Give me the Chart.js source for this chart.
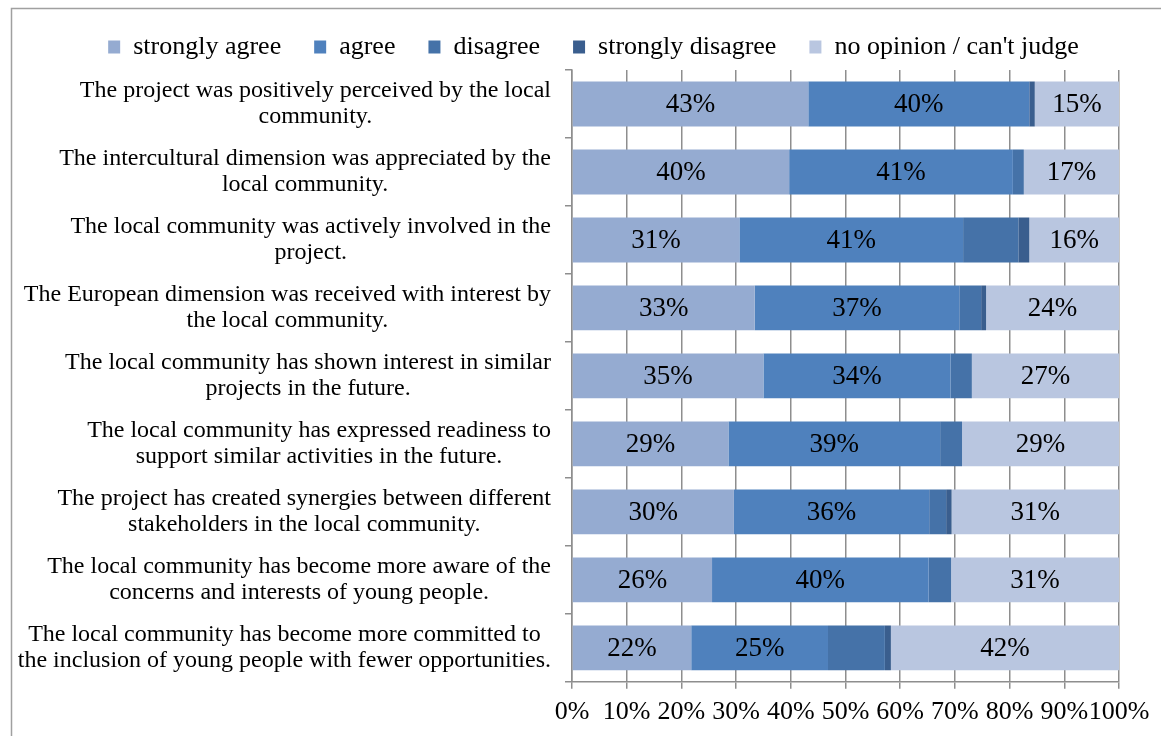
<!DOCTYPE html>
<html>
<head>
<meta charset="utf-8">
<title>Local community impact</title>
<script src="https://cdn.jsdelivr.net/npm/chart.js@4"></script>
<style>
  html, body { margin: 0; padding: 0; background: #fff; }
  #wrap { position: relative; width: 1161px; height: 736px; }
</style>
</head>
<body>
<div id="wrap"><canvas id="chart" width="1161" height="736"></canvas></div>
<script>
const SERIF = "'Liberation Serif', 'Times New Roman', serif";

const categories = [
  ['The project was positively perceived by the local', 'community.'],
  ['The intercultural dimension was appreciated by the', 'local community.'],
  ['The local community was actively involved in the', 'project.'],
  ['The European dimension was received with interest by', 'the local community.'],
  ['The local community has shown interest in similar', 'projects in the future.'],
  ['The local community has expressed readiness to', 'support similar activities in the future.'],
  ['The project has created synergies between different', 'stakeholders in the local community.'],
  ['The local community has become more aware of the', 'concerns and interests of young people.'],
  ['The local community has become more committed to', 'the inclusion of young people with fewer opportunities.']
];

const seriesNames = ['strongly agree', 'agree', 'disagree', 'strongly disagree', "no opinion / can't judge"];

// shares in percent, one entry per statement
const stronglyAgree    = [43.2, 39.7, 30.6, 33.4, 35.0, 28.6, 29.6, 25.6, 21.8];
const agree            = [40.4, 40.9, 40.9, 37.4, 34.2, 38.7, 35.7, 39.6, 25.0];
const disagree         = [0.0, 2.0, 10.1, 4.0, 3.9, 4.0, 3.1, 4.1, 10.4];
const stronglyDisagree = [1.0, 0.0, 2.0, 0.9, 0.0, 0.0, 1.0, 0.0, 1.1];
const noOpinion        = [15.4, 17.4, 16.4, 24.3, 26.9, 28.7, 30.6, 30.7, 41.7];

const xTicks = [0, 10, 20, 30, 40, 50, 60, 70, 80, 90, 100];

const colors = ['#95abd1', '#4f81bd', '#4572a8', '#3a5e8e', '#b9c6e0'];
const labelled = [0, 1, 4]; // only the wide segments carry a value label

const gridColor = '#8e8e8e';
const axisRight = 572; // x of the value axis line

// outer frame of the chart box
const framePlugin = {
  id: 'frame',
  beforeDraw(chart) {
    const ctx = chart.ctx;
    ctx.save();
    ctx.strokeStyle = '#a0a0a0';
    ctx.lineWidth = 1.5;
    ctx.beginPath();
    ctx.moveTo(11.5, chart.height);
    ctx.lineTo(11.5, 8.5);
    ctx.lineTo(chart.width, 8.5);
    ctx.stroke();
    ctx.restore();
  }
};

// statement text: block right-aligned against the axis, lines centred in it
const categoryLabels = {
  id: 'categoryLabels',
  afterDraw(chart) {
    const ctx = chart.ctx;
    const y = chart.scales.y;
    const right = y.right - 21;
    const lh = 26;
    ctx.save();
    ctx.font = '24px ' + SERIF;
    ctx.fillStyle = '#000';
    ctx.textAlign = 'center';
    ctx.textBaseline = 'middle';
    categories.forEach((lines, i) => {
      const w = Math.max(...lines.map(l => ctx.measureText(l).width));
      const cx = right - w / 2;
      const cy = y.getPixelForValue(i);
      const top = cy - (lines.length - 1) * lh / 2;
      lines.forEach((l, k) => ctx.fillText(l, cx, top + k * lh));
    });
    ctx.restore();
  }
};

// percentage labels inside the bars
const valueLabels = {
  id: 'valueLabels',
  afterDatasetsDraw(chart) {
    const ctx = chart.ctx;
    ctx.save();
    ctx.font = '27px ' + SERIF;
    ctx.fillStyle = '#000';
    ctx.textAlign = 'center';
    ctx.textBaseline = 'middle';
    labelled.forEach(di => {
      const meta = chart.getDatasetMeta(di);
      meta.data.forEach((bar, i) => {
        const v = chart.data.datasets[di].data[i];
        if (!v) return;
        const { x, base, y } = bar.getProps(['x', 'base', 'y'], true);
        ctx.fillText(Math.round(v) + '%', (x + base) / 2, y + 1);
      });
    });
    ctx.restore();
  }
};

const seriesData = [stronglyAgree, agree, disagree, stronglyDisagree, noOpinion];
const padLeft = 68;

new Chart(document.getElementById('chart'), {
  type: 'bar',
  data: {
    labels: categories.map(c => c.join(' ')),
    datasets: seriesNames.map((name, i) => ({
      label: name,
      data: seriesData[i],
      backgroundColor: colors[i],
      borderWidth: 0,
      categoryPercentage: 1,
      barPercentage: 0.66
    }))
  },
  options: {
    indexAxis: 'y',
    responsive: false,
    animation: false,
    layout: { padding: { top: 1, right: 42, left: padLeft, bottom: 0 } },
    plugins: {
      legend: {
        position: 'top',
        labels: {
          color: '#000',
          font: { family: SERIF, size: 26 },
          boxWidth: 12,
          boxHeight: 13,
          padding: 33
        }
      },
      tooltip: { enabled: false }
    },
    scales: {
      x: {
        stacked: true,
        min: 0,
        max: 100,
        afterBuildTicks: s => { s.ticks = xTicks.map(v => ({ value: v })); },
        ticks: {
          color: '#000',
          font: { family: SERIF, size: 26 },
          padding: 8,
          maxRotation: 0,
          autoSkip: false,
          callback: v => v + '%'
        },
        grid: { color: gridColor, lineWidth: 1.5, tickLength: 7 },
        border: { color: gridColor, width: 1.5 }
      },
      y: {
        stacked: true,
        ticks: { display: false },
        grid: { drawOnChartArea: false, color: gridColor, lineWidth: 1.5, tickLength: 7, offset: true },
        border: { color: gridColor, width: 1.5 },
        afterFit: s => { s.width = axisRight - padLeft; }
      }
    }
  },
  plugins: [framePlugin, categoryLabels, valueLabels]
});
</script>
</body>
</html>
